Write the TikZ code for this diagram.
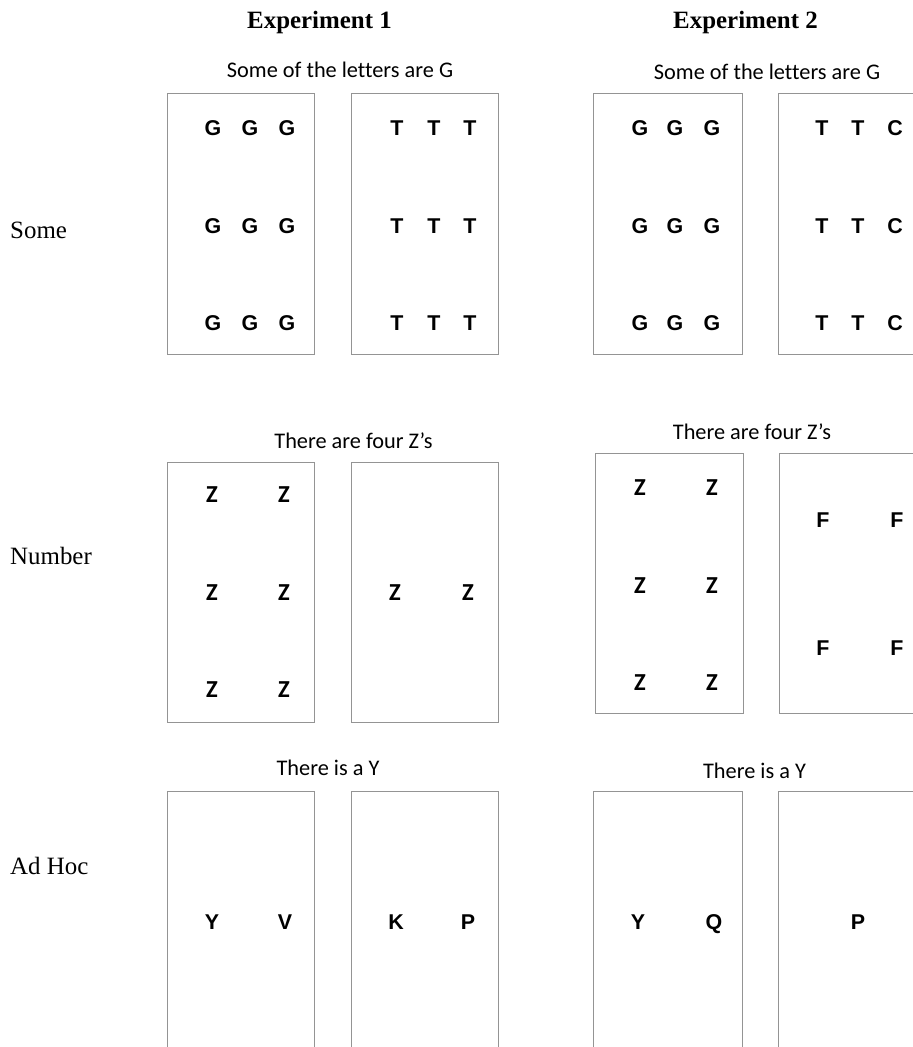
\documentclass[tikz,border=0pt]{standalone}
\usepackage{fontspec}
\setmainfont{Liberation Serif}
\newfontfamily\calfont{Carlito}[Ligatures=NoCommon]
\newfontfamily\arialfont{Liberation Sans}
\begin{document}
\begin{tikzpicture}[x=1bp,y=-1bp,
  hdr/.style={font=\fontsize{25}{30}\selectfont\bfseries, anchor=base, inner sep=0pt},
  capt/.style={font=\calfont\fontsize{22.4}{26}\selectfont, anchor=base, inner sep=0pt},
  rowlab/.style={font=\fontsize{25}{30}\selectfont, anchor=base west, inner sep=0pt},
  ltr/.style={font=\arialfont\bfseries\fontsize{21.5}{25}\selectfont, inner sep=0pt, text height=15.4bp, text depth=0pt},
  zltr/.style={font=\calfont\bfseries\fontsize{24.5}{28}\selectfont, inner sep=0pt, text height=15.8bp, text depth=0pt},
  panel/.style={draw=black!42, line width=1bp}]
\useasboundingbox (0,0) rectangle (913,1047);
\clip (0,0) rectangle (913,1047);
\fill[white] (0,0) rectangle (913,1047);

% headers
\node[hdr] (h1) at (319.5,28) {Experiment 1};
\node[hdr] (h2) at (745.5,28) {Experiment 2};

% row labels
\node[rowlab] (lsome) at (10,238) {Some};
\node[rowlab] (lnum) at (10,564) {Number};
\node[rowlab] (ladhoc) at (10,874) {Ad Hoc};

% ---------- Row 1: Some ----------
\node[capt] (c11) at (340,77) {Some of the letters are G};
\node[capt] (c12) at (767,79) {Some of the letters are G};
\draw[panel] (167,93) rectangle (314,354);
\draw[panel] (351,93) rectangle (498,354);
\draw[panel] (593,93) rectangle (742,354);
\draw[panel] (778,93) rectangle (926,354);
\foreach \y [count=\j] in {128,226,323} {
  \foreach \x [count=\i] in {213,250,287} {\node[ltr] (ga-\i-\j) at (\x,\y) {G};}
  \foreach \x [count=\i] in {397,434,470} {\node[ltr] (ta-\i-\j) at (\x,\y) {T};}
  \foreach \x [count=\i] in {640,675,712} {\node[ltr] (gb-\i-\j) at (\x,\y) {G};}
  \foreach \x [count=\i] in {822,858} {\node[ltr] (tb-\i-\j) at (\x,\y) {T};}
  \node[ltr] (cb-\j) at (895,\y) {C};
}

% ---------- Row 2: Number ----------
\node[capt] (c21) at (353.5,448) {There are four Z’s};
\node[capt] (c22) at (752,439) {There are four Z’s};
\draw[panel] (167,462) rectangle (314,722);
\draw[panel] (351,462) rectangle (498,722);
\draw[panel] (595,453) rectangle (743,713);
\draw[panel] (779,453) rectangle (927,713);
\foreach \y [count=\j] in {495,593,690} {
  \foreach \x [count=\i] in {212,284} {\node[zltr] (za-\i-\j) at (\x,\y) {Z};}
}
\node[zltr] (zb-1) at (395,593) {Z};
\node[zltr] (zb-2) at (468,593) {Z};
\foreach \y [count=\j] in {488,586,683} {
  \foreach \x [count=\i] in {640,712} {\node[zltr] (zc-\i-\j) at (\x,\y) {Z};}
}
\foreach \y [count=\j] in {520,648} {
  \foreach \x [count=\i] in {823,897} {\node[ltr] (fd-\i-\j) at (\x,\y) {F};}
}

% ---------- Row 3: Ad Hoc ----------
\node[capt] (c31) at (328,775) {There is a Y};
\node[capt] (c32) at (754.5,778) {There is a Y};
\draw[panel] (167,791) rectangle (314,1060);
\draw[panel] (351,791) rectangle (498,1060);
\draw[panel] (593,791) rectangle (742,1060);
\draw[panel] (778,791) rectangle (926,1060);
\node[ltr] (ya) at (212,922) {Y};
\node[ltr] (va) at (285,922) {V};
\node[ltr] (kb) at (396,922) {K};
\node[ltr] (pb) at (468,922) {P};
\node[ltr] (yc) at (638,922) {Y};
\node[ltr] (qc) at (714,922) {Q};
\node[ltr] (pd) at (858,922) {P};
\end{tikzpicture}
\end{document}
